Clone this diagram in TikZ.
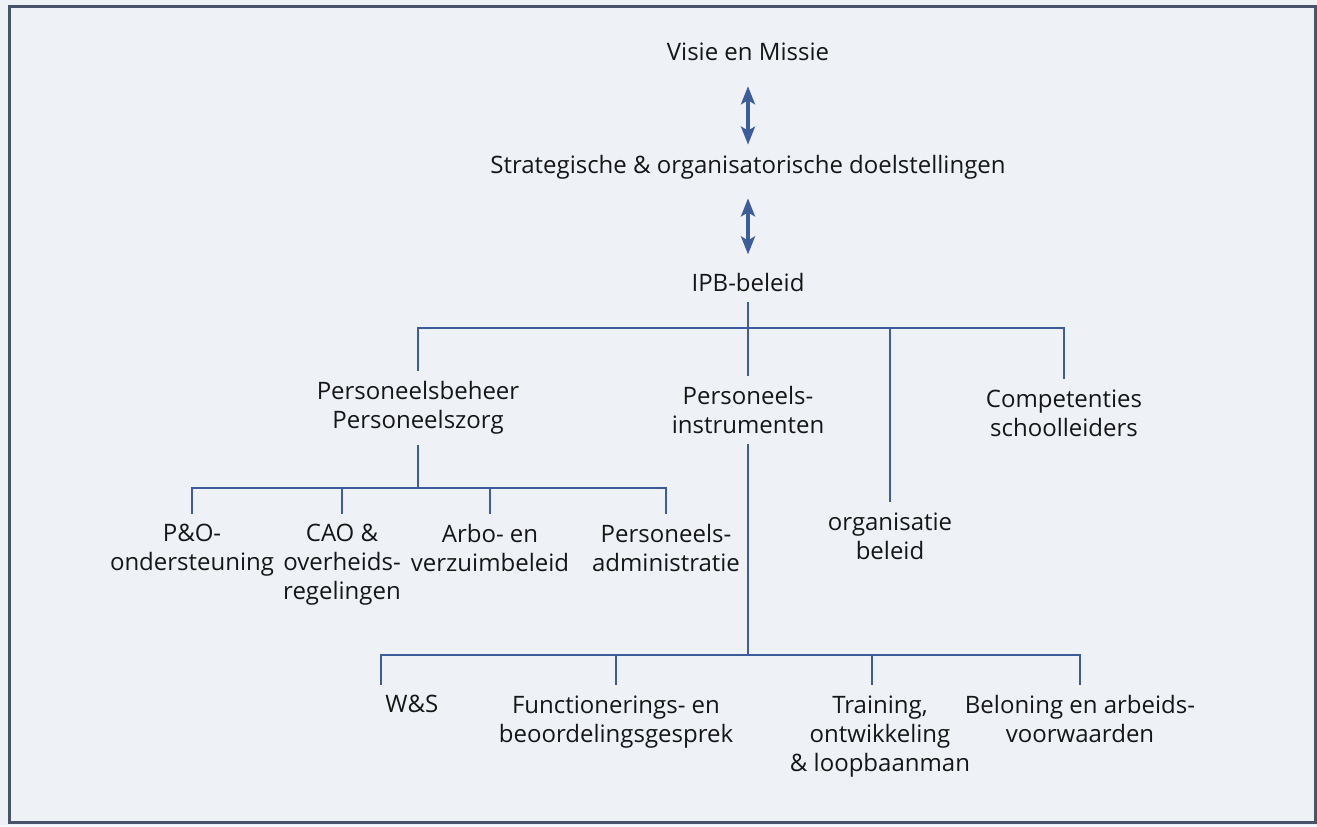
\documentclass[tikz,border=0pt]{standalone}
\usepackage{fontspec}
\setmainfont{Open Sans}
\usetikzlibrary{arrows.meta}
\definecolor{paper}{HTML}{EEF2F7}
\definecolor{orgblue}{HTML}{3D5C9C}
\definecolor{framegray}{HTML}{4A5468}
\definecolor{ink}{HTML}{161616}

\begin{document}
\begin{tikzpicture}[x=0.5pt, y=-0.5pt,
		every node/.style={font=\fontsize{12}{14.5}\selectfont, text=ink, align=center, inner xsep=2pt, inner ysep=5pt},
		tree/.style={orgblue, line width=1.4pt},
		twoway/.style={orgblue, line width=1.6pt, {Stealth[length=9pt, width=7pt, inset=2pt]}-{Stealth[length=9pt, width=7pt, inset=2pt]}}]
		% \draw[help lines, step=50] (0,0) grid (1317,826);
		\fill[paper] (0,0) rectangle (1317,826);
		\draw[framegray, line width=1.5pt] (9,6) rectangle (1315,822);

		\node (visie) at (748,52) {Visie en Missie};
		\node (strat) at (748,167) {Strategische \& organisatorische doelstellingen};
		\node (ipb) at (748,282) {IPB-beleid};
		\draw[twoway, shorten <=7.5pt, shorten >=0pt] (visie) -- (strat);
		\draw[twoway, shorten <=4.5pt, shorten >=4pt] (strat) -- (ipb);

		\coordinate (bus1) at (748,328);
		\node[anchor=north] (beheer) at (418,371) {Personeelsbeheer\\Personeelszorg};
		\node[anchor=north] (instr) at (748,376) {Personeels-\\instrumenten};
		\node[anchor=north] (org) at (890,502) {organisatie\\beleid};
		\node[anchor=north] (comp) at (1064,379) {Competenties\\schoolleiders};
		\draw[tree] (ipb) -- (instr);
		\draw[tree] (beheer.north) -- (beheer.north |- bus1) -- (comp.north |- bus1) -- (comp.north);
		\draw[tree] (org.north |- bus1) -- (org.north);

		\coordinate (bus2) at (418,488);
		\node[anchor=north] (po) at (192,514) {P\&O-\\ondersteuning};
		\node[anchor=north] (cao) at (342,514) {CAO \&\\overheids-\\regelingen};
		\node[anchor=north] (arbo) at (490,514) {Arbo- en\\verzuimbeleid};
		\node[anchor=north] (adm) at (666,514) {Personeels-\\administratie};
		\draw[tree] (beheer) -- (bus2);
		\draw[tree] (po.north) -- (po.north |- bus2) -- (adm.north |- bus2) -- (adm.north);
		\draw[tree] (cao.north |- bus2) -- (cao.north);
		\draw[tree] (arbo.north |- bus2) -- (arbo.north);

		\coordinate (bus3) at (748,655);
		\node[anchor=north west] (ws) at (381,685) {W\&S};
		\node[anchor=north] (func) at (616,685) {Functionerings- en\\beoordelingsgesprek};
		\node[anchor=north] (train) at (880,685) {Training,\\ontwikkeling\\\& loopbaanman};
		\node[anchor=north] (belon) at (1080,685) {Beloning en arbeids-\\voorwaarden};
		\draw[tree] (instr) -- (bus3);
		\draw[tree] (ws.north west) -- (ws.north west |- bus3) -- (belon.north |- bus3) -- (belon.north);
		\draw[tree] (func.north |- bus3) -- (func.north);
		\draw[tree] ([xshift=-4pt]train.north |- bus3) -- ([xshift=-4pt]train.north);
	\end{tikzpicture}
\end{document}
